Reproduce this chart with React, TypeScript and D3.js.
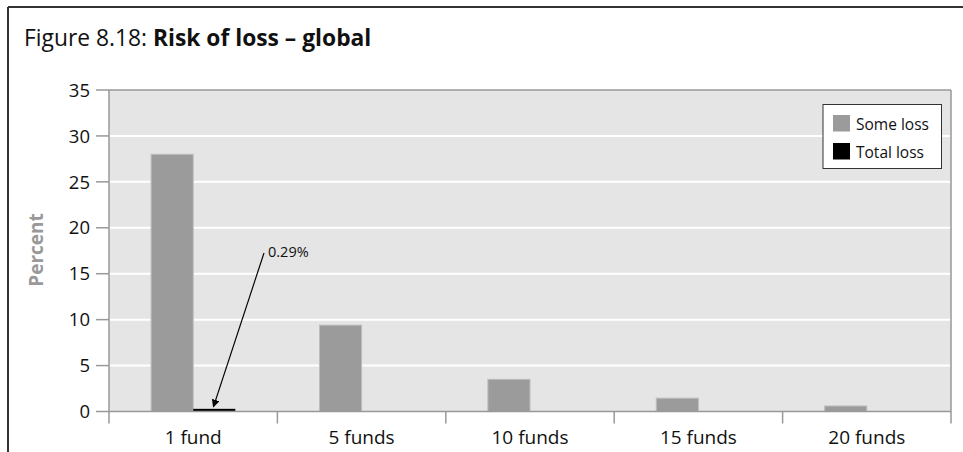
import React from "react";
import * as d3 from "d3";

const categories = ["1 fund", "5 funds", "10 funds", "15 funds", "20 funds"];
const seriesNames = ["Some loss", "Total loss"];
const someLoss = [28, 9.4, 3.5, 1.45, 0.6];
const totalLoss = [0.29, 0, 0, 0, 0];
const yTicks = [0, 5, 10, 15, 20, 25, 30, 35];
const annotationText = "0.29%";

const W = 963;
const H = 452;
const FONT = "'Open Sans', 'Noto Sans', sans-serif";

export default function App() {
  const left = 109, right = 951, top = 90, bottom = 411.5;
  const x = d3.scaleBand<string>().domain(categories).range([left, right]).paddingInner(0).paddingOuter(0);
  const y = d3.scaleLinear().domain([0, 35]).range([bottom, top]);
  const groupW = x.bandwidth() * 0.5;
  const x1 = d3.scaleBand<string>().domain(seriesNames).range([0, groupW]);
  const colors = ["#9b9b9b", "#000000"];
  const series = [someLoss, totalLoss];

  const barX = (ci: number, si: number) =>
    (x(categories[ci]) as number) + (x.bandwidth() - groupW) / 2 + (x1(seriesNames[si]) as number);

  const tipX = barX(0, 1) + x1.bandwidth() * 0.48;
  const tipY = y(totalLoss[0]) - 2;
  const startX = 264, startY = 253;

  return (
    <svg width={W} height={H} style={{ position: "absolute", left: 0, top: 0, background: "#fff" }}>
      <defs>
        <marker id="arr" viewBox="0 0 10 10" refX="9" refY="5" markerWidth="8" markerHeight="8" orient="auto-start-reverse" markerUnits="userSpaceOnUse">
          <path d="M0,0 L10,5 L0,10 z" fill="#000" />
        </marker>
      </defs>
      <line x1={8} y1={7} x2={W} y2={7} stroke="#333" strokeWidth={2} />
      <line x1={8} y1={7} x2={8} y2={H} stroke="#333" strokeWidth={2} />

      <text x={24} y={45.5} fontFamily={FONT} fontSize={22.8} fill="#111">
        <tspan>Figure 8.18: </tspan>
        <tspan fontWeight="bold">Risk of loss – global</tspan>
      </text>

      <rect x={left} y={top} width={right - left} height={bottom - top} fill="#e5e5e5" />
      {yTicks.filter((t) => t > 0 && t < 35).map((t) => (
        <line key={"g" + t} x1={left} x2={right} y1={y(t)} y2={y(t)} stroke="#fff" strokeWidth={2} />
      ))}
      <line x1={left} x2={right} y1={top} y2={top} stroke="#999" strokeWidth={1.5} />
      <line x1={right} x2={right} y1={top} y2={bottom + 12} stroke="#999" strokeWidth={1.5} />

      {series.map((vals, si) =>
        vals.map((v, ci) =>
          v > 0 ? (
            <rect
              key={si + "-" + ci}
              x={barX(ci, si)}
              y={y(v)}
              width={x1.bandwidth()}
              height={bottom - y(v)}
              fill={colors[si]}
              stroke={si === 0 ? "#bcbcbc" : "none"}
              strokeWidth={1}
            />
          ) : null
        )
      )}

      <line x1={left} x2={left} y1={top} y2={bottom + 12} stroke="#999" strokeWidth={1.5} />
      <line x1={left} x2={right} y1={bottom} y2={bottom} stroke="#999" strokeWidth={1.5} />
      {yTicks.map((t) => (
        <g key={"t" + t}>
          <line x1={96} x2={left} y1={y(t)} y2={y(t)} stroke="#999" strokeWidth={1.5} />
          <text x={90} y={y(t)} dy="0.36em" textAnchor="end" fontFamily={FONT} fontSize={18.5} fill="#111">
            {t}
          </text>
        </g>
      ))}
      {categories.map((c, i) => (
        <g key={c}>
          {i > 0 && (
            <line x1={x(c) as number} x2={x(c) as number} y1={bottom} y2={bottom + 12} stroke="#999" strokeWidth={1.5} />
          )}
          <text x={(x(c) as number) + x.bandwidth() / 2} y={444} textAnchor="middle" fontFamily={FONT} fontSize={19} fill="#111">
            {c}
          </text>
        </g>
      ))}

      <text
        transform={`translate(43, 250) rotate(-90)`}
        textAnchor="middle"
        fontFamily={FONT}
        fontSize={19}
        fontWeight="bold"
        fill="#999"
      >
        Percent
      </text>

      <line x1={startX} y1={startY} x2={tipX} y2={tipY} stroke="#000" strokeWidth={1.2} markerEnd="url(#arr)" />
      <text x={268} y={257} fontFamily={FONT} fontSize={14.5} fill="#111">
        {annotationText}
      </text>

      <rect x={823} y={104.5} width={118.5} height={64} fill="#fff" stroke="#333" strokeWidth={1} />
      {seriesNames.map((s, i) => (
        <g key={s}>
          <rect x={833} y={115 + i * 28} width={17} height={16.5} fill={colors[i]} />
          <text x={856} y={129.5 + i * 28} fontFamily={FONT} fontSize={15.5} fill="#111">
            {s}
          </text>
        </g>
      ))}
    </svg>
  );
}
